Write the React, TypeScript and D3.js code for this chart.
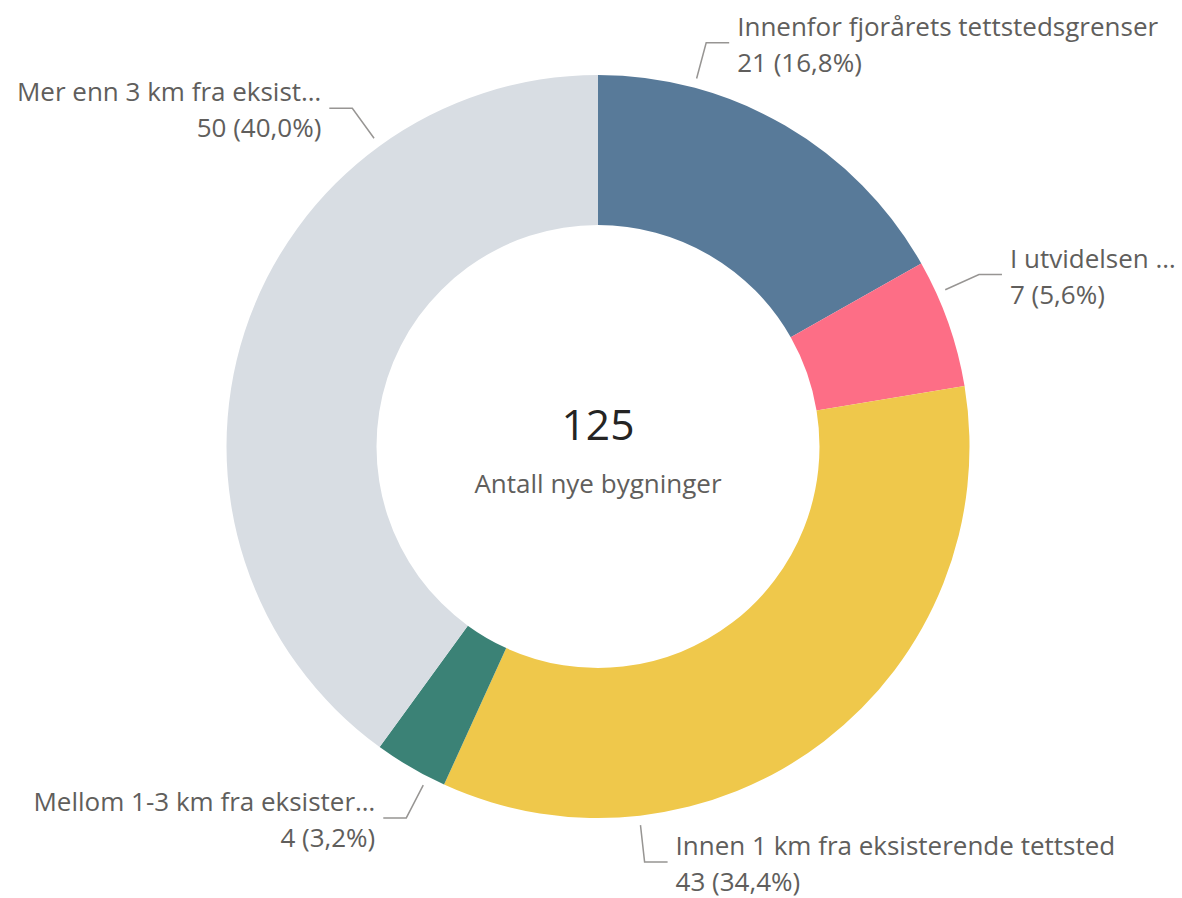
import React from "react";
import * as d3 from "d3";

const categories = [
  "Innenfor fjorårets tettstedsgrenser",
  "I utvidelsen …",
  "Innen 1 km fra eksisterende tettsted",
  "Mellom 1-3 km fra eksister…",
  "Mer enn 3 km fra eksist…",
];
const values = [21, 7, 43, 4, 50];
const colors = ["#587A99", "#FD6E86", "#EFC84B", "#3B8276", "#D8DDE3"];
const centerLabel = "Antall nye bygninger";

// layout: leader-line angle (degrees, clockwise from top) for each label
const labelAngles = [15, 65.7, 173.6, 207.3, 324];

const W = 1182;
const H = 898;
const CX = 598;
const CY = 446.5;
const R_OUT = 371.5;
const R_IN = 221.5;
const FONT = "'Segoe UI', 'Open Sans', 'Noto Sans', sans-serif";
const TEXT_COLOR = "#605E5C";
const LABEL_SIZE = 26;

export default function App() {
  const total = d3.sum(values);
  const pie = d3
    .pie<number>()
    .sort(null)
    .startAngle(0)
    .endAngle(2 * Math.PI)
    .value((d) => d);
  const arcs = pie(values);
  const arc = d3.arc<d3.PieArcDatum<number>>().innerRadius(R_IN).outerRadius(R_OUT);
  const fmt = (v: number) => d3.format(".1f")((v / total) * 100).replace(".", ",");

  const pt = (angDeg: number, r: number) => {
    const a = (angDeg * Math.PI) / 180;
    return [Math.sin(a) * r, -Math.cos(a) * r];
  };

  return (
    <svg
      width={W}
      height={H}
      style={{ position: "absolute", left: 0, top: 0, background: "#fff" }}
      fontFamily={FONT}
    >
      <g transform={`translate(${CX},${CY})`}>
        {arcs.map((a, i) => (
          <path key={i} d={arc(a) || ""} fill={colors[i]} />
        ))}
        {arcs.map((a, i) => {
          const ang = labelAngles[i];
          const [x0, y0] = pt(ang, R_OUT + 9.5);
          const [x1, y1] = pt(ang, R_OUT + 46.5);
          const right = x1 >= 0;
          const x2 = x1 + (right ? 23 : -23);
          const tx = x2 + (right ? 8 : -8);
          const anchor = right ? "start" : "end";
          return (
            <g key={"l" + i}>
              <polyline
                points={`${x0},${y0} ${x1},${y1} ${x2},${y1}`}
                fill="none"
                stroke="#979593"
                strokeWidth={1.5}
              />
              <text
                x={tx}
                y={y1 - 17}
                textAnchor={anchor}
                dominantBaseline="central"
                fontSize={LABEL_SIZE}
                fill={TEXT_COLOR}
              >
                {categories[i]}
              </text>
              <text
                x={tx}
                y={y1 + 19}
                textAnchor={anchor}
                dominantBaseline="central"
                fontSize={LABEL_SIZE}
                fill={TEXT_COLOR}
              >
                {`${values[i]} (${fmt(values[i])}%)`}
              </text>
            </g>
          );
        })}
        <text
          x={0}
          y={-23}
          textAnchor="middle"
          dominantBaseline="central"
          fontSize={42.5}
          fill="#252423"
        >
          {total}
        </text>
        <text
          x={0}
          y={36.5}
          textAnchor="middle"
          dominantBaseline="central"
          fontSize={26}
          fill={TEXT_COLOR}
        >
          {centerLabel}
        </text>
      </g>
    </svg>
  );
}
